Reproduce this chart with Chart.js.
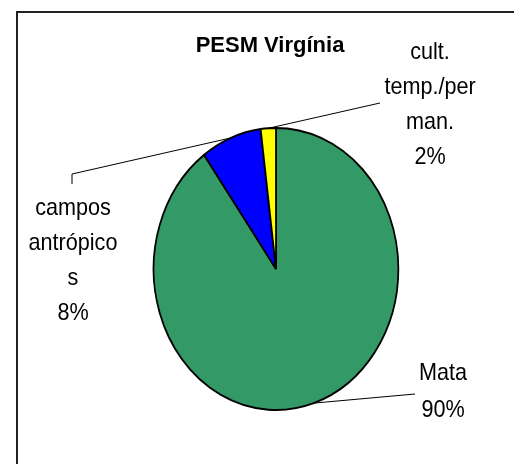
<!DOCTYPE html>
<html>
<head>
<meta charset="utf-8">
<script src="https://cdn.jsdelivr.net/npm/chart.js@4"></script>
<style>
  html, body { margin: 0; padding: 0; background: #fff; }
  #wrap { width: 514px; height: 464px; }
</style>
</head>
<body>
<div id="wrap"><canvas id="pie-chart"></canvas></div>
<script>
const titleText = 'PESM Virgínia';
const categories = ['Mata', 'campos antrópicos', 'cult. temp./perman.'];
const wrappedLabels = [['Mata'], ['campos', 'antrópico', 's'], ['cult.', 'temp./per', 'man.']];
const values = [90, 8, 2];
const sliceColors = ['#339966', '#0000ff', '#ffff00'];

document.addEventListener('DOMContentLoaded', () => {
    const canvas = document.getElementById('pie-chart');

    // the original pie is a bit narrower than it is tall
    const squashX = 0.868;

    // where each label block sits and where its leader line ends
    const labelPos = [
        { x: 443, y: 373, lh: 37, line: [[415, 394]] },
        { x: 73, y: 208, lh: 35, line: [[72, 184], [72, 174]] },
        { x: 430, y: 52, lh: 35, line: [[380, 103]] }
    ];

    const drawText = (ctx, t, x, y) => {
        ctx.save();
        ctx.translate(x, y);
        ctx.scale(0.9, 1);
        ctx.fillText(t, 0, 0);
        ctx.restore();
    };

    const squash = {
        id: 'squash',
        beforeDatasetsDraw(chart) {
            const ctx = chart.ctx;
            const cx = (chart.chartArea.left + chart.chartArea.right) / 2;
            ctx.save();
            ctx.translate(cx, 0);
            ctx.scale(squashX, 1);
            ctx.translate(-cx, 0);
        },
        afterDatasetsDraw(chart) {
            chart.ctx.restore();
        }
    };

    const sliceLabels = {
        id: 'sliceLabels',
        afterDatasetsDraw(chart) {
            const ctx = chart.ctx;
            const arcs = chart.getDatasetMeta(0).data;
            const total = values.reduce((a, b) => a + b, 0);
            ctx.save();

            // frame (only top and left edges are visible)
            ctx.strokeStyle = '#222';
            ctx.lineWidth = 2;
            ctx.beginPath();
            ctx.moveTo(17, 470);
            ctx.lineTo(17, 12);
            ctx.lineTo(520, 12);
            ctx.stroke();

            // title
            ctx.fillStyle = '#000';
            ctx.font = 'bold 22px "Liberation Sans", Arial, sans-serif';
            ctx.textAlign = 'center';
            ctx.textBaseline = 'middle';
            ctx.fillText(titleText, 270, 46);

            ctx.font = '24px "Liberation Sans", Arial, sans-serif';
            arcs.forEach((arc, i) => {
                const p = arc.getProps(['x', 'y', 'startAngle', 'endAngle', 'outerRadius'], true);
                const mid = (p.startAngle + p.endAngle) / 2;
                const ex = p.x + Math.cos(mid) * p.outerRadius * squashX;
                const ey = p.y + Math.sin(mid) * p.outerRadius;
                const pos = labelPos[i];

                ctx.strokeStyle = '#000';
                ctx.lineWidth = 1;
                ctx.beginPath();
                ctx.moveTo(ex, ey);
                for (let k = pos.line.length - 1; k >= 0; k--) ctx.lineTo(pos.line[k][0], pos.line[k][1]);
                ctx.stroke();

                const lines = wrappedLabels[i].concat([Math.round(values[i] / total * 100) + '%']);
                lines.forEach((t, j) => drawText(ctx, t, pos.x, pos.y + j * pos.lh));
            });
            ctx.restore();
        }
    };

    new Chart(canvas, {
        type: 'pie',
        data: {
            labels: categories,
            datasets: [{
                data: values,
                backgroundColor: sliceColors,
                borderColor: '#000',
                borderWidth: 2
            }]
        },
        options: {
            responsive: true,
            maintainAspectRatio: false,
            animation: false,
            layout: {
                padding: { left: 134, right: 96, top: 127, bottom: 53 }
            },
            plugins: {
                legend: { display: false },
                title: { display: false },
                tooltip: { enabled: true }
            }
        },
        plugins: [squash, sliceLabels]
    });
});
</script>
</body>
</html>
